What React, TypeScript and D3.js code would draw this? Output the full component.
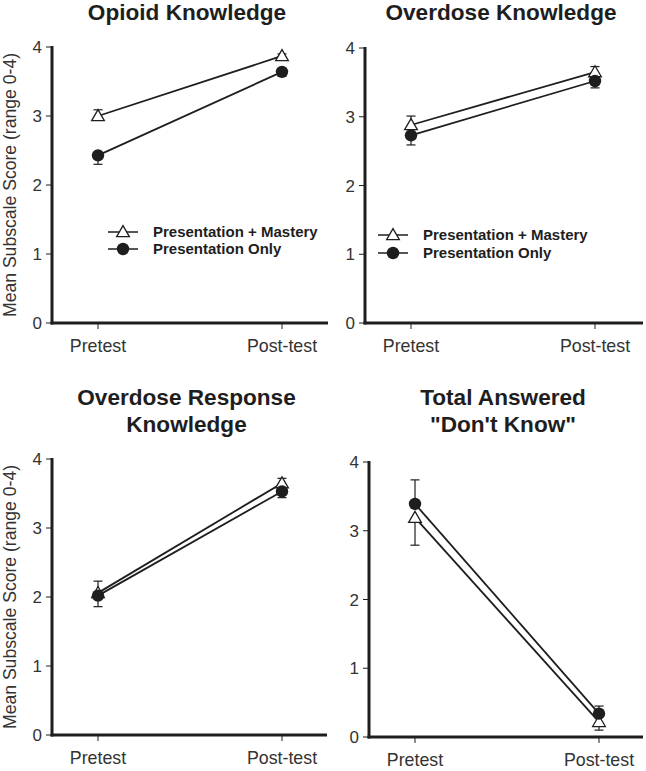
import React from 'react'
import {scaleLinear, scalePoint, line, symbol, symbolTriangle} from 'd3'

const categories = ['Pretest', 'Post-test']
const yTicks = [0, 1, 2, 3, 4]
const titles = [
  ['Opioid Knowledge'],
  ['Overdose Knowledge'],
  ['Overdose Response', 'Knowledge'],
  ['Total Answered', '"Don\'t Know"']
]
const seriesNames = ['Presentation + Mastery', 'Presentation Only']

// means per panel [pretest, post-test]
const masteryMeans = [[3.0, 3.87], [2.88, 3.65], [2.06, 3.65], [3.19, 0.22]]
const onlyMeans = [[2.43, 3.64], [2.73, 3.52], [2.02, 3.53], [3.39, 0.34]]
// error bar lengths, sign = direction drawn (+ up, - down)
const masteryErr = [[0.09, 0.03], [0.13, 0.08], [0.17, 0.07], [-0.4, -0.12]]
const onlyErr = [[-0.13, -0.06], [-0.14, -0.1], [-0.16, -0.09], [0.35, 0.11]]

const yLabel = 'Mean Subscale Score (range 0-4)'
const font = '"Liberation Sans", Arial, Helvetica, sans-serif'
const ink = '#1e1e1e'

// panel frames (pixel layout only)
const panels = [
  {left: 52, right: 328, top: 47, bottom: 323, legend: {x: 108, y: 232, tx: 153, gap: 17}, showLabel: true},
  {left: 365, right: 643, top: 48, bottom: 323, legend: {x: 378, y: 235, tx: 423, gap: 18}, showLabel: false},
  {left: 52, right: 327, top: 459, bottom: 735, legend: null, showLabel: true},
  {left: 369, right: 643, top: 462, bottom: 737, legend: null, showLabel: false}
]

const triPath = symbol().type(symbolTriangle).size(70)()

const Marker = ({kind, x, y}) =>
  kind === 'tri' ? (
    <path d={triPath} transform={`translate(${x},${y + 1})`} fill="#fff" stroke={ink} strokeWidth={1.3} />
  ) : (
    <circle cx={x} cy={y} r={6.2} fill={ink} />
  )

const Panel = ({p, i}) => {
  const x = scalePoint().domain(categories).range([p.left + 46, p.left + 230])
  const y = scaleLinear().domain([0, 4]).range([p.bottom, p.top])
  const lineGen = line()
    .x((d, k) => x(categories[k]))
    .y(d => y(d))
  const mid = (p.left + p.right) / 2 - 3
  const series = [
    {kind: 'tri', means: masteryMeans[i], err: masteryErr[i]},
    {kind: 'dot', means: onlyMeans[i], err: onlyErr[i]}
  ]
  const titleLines = titles[i]
  const titleBase = i < 2 ? 20 : 405
  return (
    <g>
      {titleLines.map((t, k) => (
        <text key={k} x={mid} y={titleBase + k * 27} textAnchor="middle" fontSize={22.6} fontWeight="bold" fill={ink}>
          {t}
        </text>
      ))}
      {/* y ticks */}
      {yTicks.map(t => (
        <g key={t}>
          <line x1={p.left - 6} x2={p.left} y1={y(t)} y2={y(t)} stroke={ink} strokeWidth={1} />
          <text x={p.left - 10} y={y(t) + 6} textAnchor="end" fontSize={17} fill="#333">
            {t}
          </text>
        </g>
      ))}
      {/* x ticks */}
      {categories.map(c => (
        <g key={c}>
          <line x1={x(c)} x2={x(c)} y1={p.bottom} y2={p.bottom + 6} stroke={ink} strokeWidth={1} />
          <text x={x(c)} y={p.bottom + 29} textAnchor="middle" fontSize={17.8} fill="#333">
            {c}
          </text>
        </g>
      ))}
      {p.showLabel && (
        <text
          transform={`translate(16,${(p.top + p.bottom) / 2}) rotate(-90)`}
          textAnchor="middle"
          fontSize={17.6}
          fill="#333">
          {yLabel}
        </text>
      )}
      {/* axes */}
      <line x1={p.left} x2={p.left} y1={p.top - 1} y2={p.bottom + 1.5} stroke={ink} strokeWidth={3} />
      <line x1={p.left - 1.5} x2={p.right} y1={p.bottom} y2={p.bottom} stroke={ink} strokeWidth={3} />
      {/* error bars */}
      {series.map(s =>
        s.means.map((m, k) => {
          const cx = x(categories[k])
          const ye = y(m + s.err[k])
          return (
            <g key={s.kind + k} stroke={ink} strokeWidth={1.2}>
              <line x1={cx} x2={cx} y1={y(m)} y2={ye} />
              <line x1={cx - 4.5} x2={cx + 4.5} y1={ye} y2={ye} />
            </g>
          )
        })
      )}
      {series.map(s => (
        <path key={s.kind} d={lineGen(s.means)} fill="none" stroke={ink} strokeWidth={1.8} />
      ))}
      {series.map(s =>
        s.means.map((m, k) => <Marker key={s.kind + k} kind={s.kind} x={x(categories[k])} y={y(m)} />)
      )}
      {p.legend &&
        seriesNames.map((name, k) => {
          const ly = p.legend.y + k * p.legend.gap
          const lx2 = p.legend.tx - 15
          return (
            <g key={name}>
              <line x1={p.legend.x} x2={lx2} y1={ly} y2={ly} stroke={ink} strokeWidth={1.5} />
              <Marker kind={k === 0 ? 'tri' : 'dot'} x={(p.legend.x + lx2) / 2} y={ly} />
              <text x={p.legend.tx} y={ly + 5} fontSize={15} fontWeight="bold" fill={ink}>
                {name}
              </text>
            </g>
          )
        })}
    </g>
  )
}

export default function App() {
  return (
    <svg
      width={646}
      height={771}
      style={{position: 'absolute', left: 0, top: 0, background: '#fff'}}
      fontFamily={font}>
      <rect width={646} height={771} fill="#fff" />
      {panels.map((p, i) => (
        <Panel key={i} p={p} i={i} />
      ))}
    </svg>
  )
}
